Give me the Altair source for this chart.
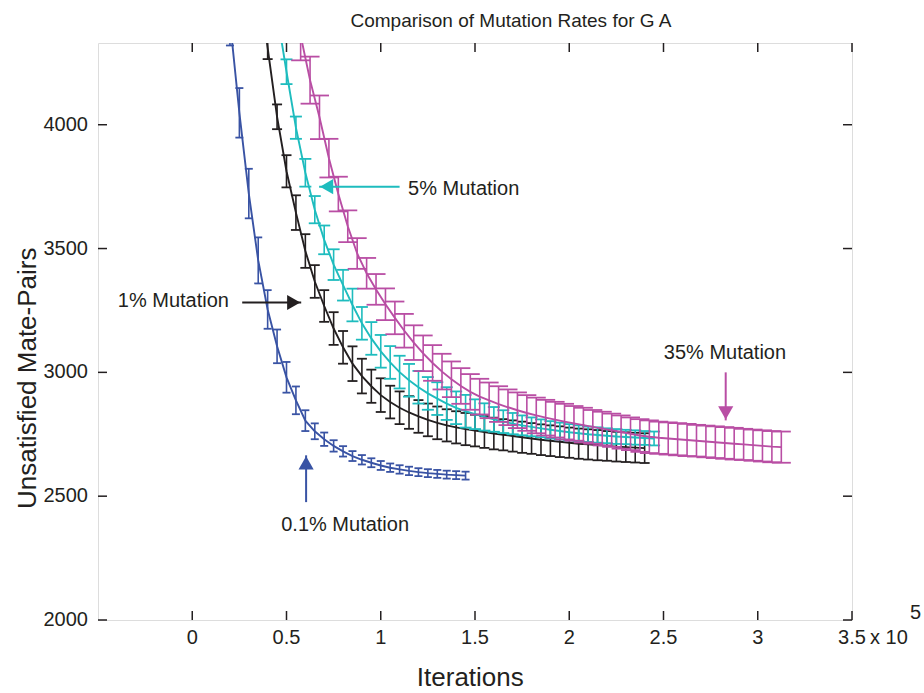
import altair as alt
import pandas as pd

# ---------------- data ----------------
TITLE = "Comparison of Mutation Rates for G A"
X_TITLE = "Iterations"
Y_TITLE = "Unsatisfied Mate-Pairs"
X_DOMAIN = [-0.5, 3.5]
Y_DOMAIN = [2000, 4330]
X_TICKS = [0, 0.5, 1, 1.5, 2, 2.5, 3, 3.5]
X_TICK_LABELS = ["0", "0.5", "1", "1.5", "2", "2.5", "3", "3.5"]
Y_TICKS = [2000, 2500, 3000, 3500, 4000]
Y_TICK_LABELS = ["2000", "2500", "3000", "3500", "4000"]
X_EXPONENT = ["x 10", "5"]
STEP = 0.05  # sampling interval (x 10^5 iterations)

SERIES_NAMES = ["0.1%", "1%", "5%", "35%"]
X_STARTS = [0.20, 0.35, 0.45, 0.575]

BLUE_Y = [4420, 4048, 3722, 3452, 3254, 3105, 2980, 2887, 2805, 2762, 2730, 2703,
          2681, 2662, 2647, 2635, 2624, 2615, 2608, 2602, 2597, 2593, 2590, 2587,
          2585, 2583]
BLUE_ERR = [100, 100, 100, 93, 78, 68, 62, 56, 42, 32, 27, 23, 21, 20, 19, 18,
            18, 17, 17, 17, 16, 16, 16, 16, 16, 16]

BLACK_Y = [4600, 4310, 4032, 3812, 3645, 3490, 3367, 3268, 3177, 3101, 3035, 2985,
           2944, 2908, 2880, 2857, 2838, 2822, 2808, 2796, 2786, 2778, 2771, 2765,
           2759, 2753, 2748, 2743, 2738, 2733, 2728, 2724, 2720, 2716, 2712, 2709,
           2706, 2703, 2700, 2698, 2696, 2694]
BLACK_ERR = [60, 45, 50, 65, 70, 68, 66, 64, 66, 66, 70, 70, 67, 68, 66, 66, 66,
             66, 66, 66, 65, 65, 65, 64, 64, 64, 63, 63, 63, 62, 62, 62, 62, 61,
             61, 61, 61, 60, 60, 60, 60, 60]

CYAN_Y = [4450, 4214, 3988, 3806, 3657, 3535, 3435, 3352, 3272, 3198, 3137, 3085,
          3040, 3001, 2968, 2940, 2915, 2894, 2874, 2857, 2843, 2831, 2820, 2810,
          2801, 2793, 2786, 2780, 2774, 2768, 2763, 2758, 2754, 2750, 2747, 2744,
          2741, 2739, 2737, 2735, 2733]
CYAN_ERR = [55, 50, 45, 56, 55, 58, 62, 62, 66, 66, 66, 66, 66, 66, 66, 66, 66,
            66, 66, 66, 66, 60, 55, 50, 46, 43, 40, 38, 36, 35, 34, 33, 32, 31,
            31, 30, 30, 29, 29, 28, 28]

MAGENTA_Y = [4360, 4180, 4030, 3865, 3720, 3590, 3480, 3400, 3335, 3275, 3220,
             3168, 3120, 3077, 3038, 3003, 2972, 2945, 2921, 2902, 2887, 2872,
             2859, 2847, 2836, 2826, 2817, 2809, 2801, 2794, 2787, 2780, 2773,
             2766, 2759, 2752, 2745, 2740, 2736, 2733, 2730, 2727, 2724, 2721,
             2718, 2715, 2712, 2709, 2706, 2703, 2700, 2698]
MAGENTA_ERR = [100, 95, 88, 78, 70, 64, 62, 62, 62, 64, 66, 68, 70, 72, 72, 72,
               72, 72, 72, 72, 72, 72, 72, 72, 72, 72, 72, 72, 72, 70, 70, 68, 68,
               67, 67, 66, 66, 66, 65, 65, 65, 65, 64, 64, 64, 64, 64, 63, 63, 63,
               63, 63]

SERIES_Y = [BLUE_Y, BLACK_Y, CYAN_Y, MAGENTA_Y]
SERIES_ERR = [BLUE_ERR, BLACK_ERR, CYAN_ERR, MAGENTA_ERR]

ANNOT_TEXT = ["5% Mutation", "1% Mutation", "35% Mutation", "0.1% Mutation"]
ANNOT_X = [1.44, -0.10, 2.826, 0.811]
ANNOT_Y = [3742, 3290, 3077, 2383]
ARROW_TAIL_X = [1.10, 0.265, 2.83, 0.604]
ARROW_TAIL_Y = [3750, 3282, 3000, 2476]
ARROW_TIP_X = [0.673, 0.578, 2.83, 0.604]
ARROW_TIP_Y = [3750, 3282, 2806, 2665]

# axis-title anchor positions (data units)
X_TITLE_POS = [1.475, Y_DOMAIN[0]]
Y_TITLE_POS = [X_DOMAIN[0], 2976]

# ---------------- style ----------------
FONT = "Liberation Sans"
INK = "#231f20"
COLORS = ["#3953a4", "#231f20", "#1ebcbe", "#b94ea4"]
CAP_WIDTHS = [8, 10, 12, 19]
ARROW_SHAPES = ["triangle-left", "triangle-right", "triangle-down", "triangle-up"]
ARROW_COLORS = [COLORS[2], COLORS[1], COLORS[3], COLORS[0]]

x_scale = alt.Scale(domain=X_DOMAIN, nice=False, zero=False)
y_scale = alt.Scale(domain=Y_DOMAIN, nice=False, zero=False)


def xe(field):
    return alt.X(f"{field}:Q", scale=x_scale, axis=None)


def ye(field):
    return alt.Y(f"{field}:Q", scale=y_scale, axis=None)


layers = []

for name, x0, ys, errs, col, cap in zip(SERIES_NAMES, X_STARTS, SERIES_Y,
                                         SERIES_ERR, COLORS, CAP_WIDTHS):
    xs = [round(x0 + STEP * i, 4) for i in range(len(ys))]
    df = pd.DataFrame({"x": xs, "y": ys,
                       "lo": [v - e for v, e in zip(ys, errs)],
                       "hi": [v + e for v, e in zip(ys, errs)]})
    base = alt.Chart(df)
    layers.append(base.mark_rule(color=col, strokeWidth=1.6, clip=True).encode(
        x=xe("x"), y=ye("lo"), y2=alt.Y2("hi:Q")))
    layers.append(base.mark_tick(orient="horizontal", size=cap, thickness=1.8,
                                 color=col, opacity=1, clip=True).encode(
        x=xe("x"), y=ye("lo")))
    layers.append(base.mark_tick(orient="horizontal", size=cap, thickness=1.8,
                                 color=col, opacity=1, clip=True).encode(
        x=xe("x"), y=ye("hi")))
    layers.append(base.mark_line(color=col, strokeWidth=1.9, clip=True).encode(
        x=xe("x"), y=ye("y")))

# inward frame ticks and tick labels (from the tick value lists)
tx = pd.DataFrame({"x": X_TICKS, "lab": X_TICK_LABELS,
                   "yb": [Y_DOMAIN[0]] * len(X_TICKS),
                   "yt": [Y_DOMAIN[1]] * len(X_TICKS)})
ty = pd.DataFrame({"y": Y_TICKS, "lab": Y_TICK_LABELS,
                   "xl": [X_DOMAIN[0]] * len(Y_TICKS),
                   "xr": [X_DOMAIN[1]] * len(Y_TICKS)})
layers.append(alt.Chart(tx).mark_tick(orient="vertical", size=9, thickness=1.5,
                                      color=INK, opacity=1, yOffset=-4.5).encode(
    x=xe("x"), y=ye("yb")))
layers.append(alt.Chart(tx).mark_tick(orient="vertical", size=9, thickness=1.5,
                                      color=INK, opacity=1, yOffset=4.5).encode(
    x=xe("x"), y=ye("yt")))
layers.append(alt.Chart(ty).mark_tick(orient="horizontal", size=9, thickness=1.5,
                                      color=INK, opacity=1, xOffset=4.5).encode(
    y=ye("y"), x=xe("xl")))
layers.append(alt.Chart(ty).mark_tick(orient="horizontal", size=9, thickness=1.5,
                                      color=INK, opacity=1, xOffset=-4.5).encode(
    y=ye("y"), x=xe("xr")))
layers.append(alt.Chart(tx).mark_text(font=FONT, fontSize=20, color=INK,
                                      align="center", baseline="top", dy=8).encode(
    x=xe("x"), y=ye("yb"), text="lab:N"))
layers.append(alt.Chart(ty).mark_text(font=FONT, fontSize=20, color=INK,
                                      align="right", baseline="middle", dx=-10).encode(
    x=xe("xl"), y=ye("y"), text="lab:N"))

# axis titles
layers.append(alt.Chart(pd.DataFrame({"x": [X_TITLE_POS[0]], "y": [X_TITLE_POS[1]]}))
              .mark_text(text=X_TITLE, font=FONT, fontSize=26, color=INK,
                         align="center", baseline="middle", dy=58).encode(
    x=xe("x"), y=ye("y")))
layers.append(alt.Chart(pd.DataFrame({"x": [Y_TITLE_POS[0]], "y": [Y_TITLE_POS[1]]}))
              .mark_text(text=Y_TITLE, font=FONT, fontSize=26, color=INK,
                         align="center", baseline="middle", angle=270,
                         xOffset=-70).encode(
    x=xe("x"), y=ye("y")))

# exponent label "x 10^5"
exp_df = pd.DataFrame({"x": [X_DOMAIN[1]], "y": [Y_DOMAIN[0]]})
layers.append(alt.Chart(exp_df).mark_text(text=X_EXPONENT[0], font=FONT, fontSize=20,
                                          color=INK, align="left", baseline="top",
                                          dx=18, dy=8).encode(x=xe("x"), y=ye("y")))
layers.append(alt.Chart(exp_df).mark_text(text=X_EXPONENT[1], font=FONT, fontSize=20,
                                          color=INK, align="left", baseline="top",
                                          dx=58, dy=-17).encode(x=xe("x"), y=ye("y")))

# annotations
ann_df = pd.DataFrame({"x": ANNOT_X, "y": ANNOT_Y, "t": ANNOT_TEXT})
layers.append(alt.Chart(ann_df).mark_text(font=FONT, fontSize=20, color=INK,
                                          align="center", baseline="middle").encode(
    x=xe("x"), y=ye("y"), text="t:N"))

HEAD = 7.5
offsets = {"triangle-left": (HEAD, 0), "triangle-right": (-HEAD, 0),
           "triangle-down": (0, -HEAD), "triangle-up": (0, HEAD)}
for tx0, ty0, tx1, ty1, shp, col in zip(ARROW_TAIL_X, ARROW_TAIL_Y, ARROW_TIP_X,
                                         ARROW_TIP_Y, ARROW_SHAPES, ARROW_COLORS):
    adf = pd.DataFrame({"x": [tx0], "y": [ty0], "x2": [tx1], "y2": [ty1]})
    layers.append(alt.Chart(adf).mark_rule(color=col, strokeWidth=2).encode(
        x=xe("x"), y=ye("y"), x2=alt.X2("x2:Q"), y2=alt.Y2("y2:Q")))
    ox, oy = offsets[shp]
    layers.append(alt.Chart(adf).mark_point(shape=shp, size=230, filled=True,
                                            color=col, opacity=1, xOffset=ox,
                                            yOffset=oy).encode(
        x=xe("x2"), y=ye("y2")))

chart = alt.layer(*layers).properties(
    width=754, height=577,
    title=alt.TitleParams(TITLE, font=FONT, fontSize=19, fontWeight="normal",
                          color=INK, anchor="middle", dx=36, offset=12),
    padding={"left": 98, "top": 43, "right": 72, "bottom": 73},
    autosize=alt.AutoSizeParams(type="none"),
).configure_view(stroke=INK, strokeWidth=2).configure(background="white")

chart.save("out.html", embed_options={"renderer": "svg", "actions": False})
